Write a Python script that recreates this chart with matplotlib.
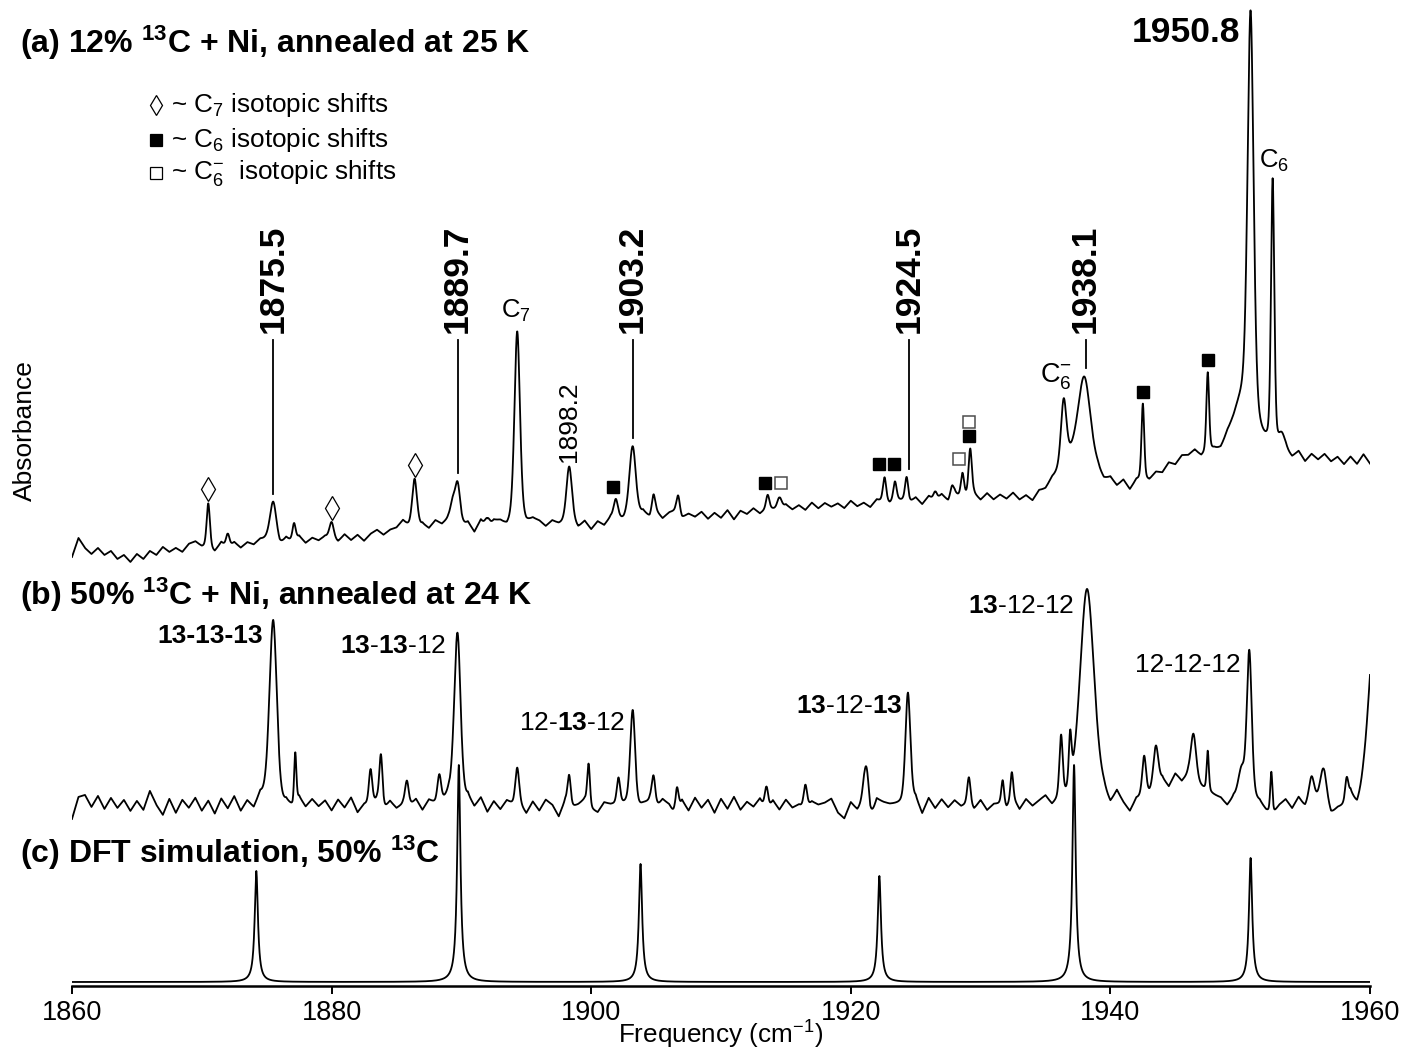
import matplotlib

matplotlib.use("Agg")

import matplotlib.pyplot as plt
import numpy as np


plt.rcParams["font.family"] = ["Liberation Sans", "DejaVu Sans"]
plt.rcParams["mathtext.fontset"] = "custom"
plt.rcParams["mathtext.rm"] = "Liberation Sans"
plt.rcParams["mathtext.bf"] = "Liberation Sans:bold"
plt.rcParams["mathtext.default"] = "regular"


FREQ_MIN = 1860
FREQ_MAX = 1960

# ---------------------------------------------------------------
# (c) DFT simulation, 50% 13C  (Lorentzian bands)
# ---------------------------------------------------------------
dft_pos = [1874.2, 1889.8, 1903.8, 1922.2, 1937.2, 1950.8]
dft_height = [111, 217, 118, 106, 217, 124]
dft_fwhm = 0.3
dft_offset = 4

# ---------------------------------------------------------------
# (b) 50% 13C + Ni, annealed at 24 K
# ---------------------------------------------------------------
b_offset = 181

b_pos = [1875.5, 1877.2, 1883.0, 1883.8, 1885.8, 1888.3, 1889.7, 1894.3,
         1898.3, 1899.8, 1902.1, 1903.2, 1904.8, 1906.6, 1913.5, 1916.5,
         1921.2, 1924.4, 1929.1, 1931.7, 1932.4, 1936.2, 1936.9, 1938.2,
         1942.6, 1943.5, 1945.5, 1946.4, 1947.5, 1950.1, 1950.7, 1952.4,
         1955.5, 1956.4, 1958.2, 1960.4]
b_height = [185, 50, 35, 52, 25, 28, 176, 37,
            30, 42, 26, 97, 30, 26, 25, 24,
            45, 112, 28, 25, 28, 62, 50, 215,
            40, 42, 25, 48, 40, 30, 150, 42,
            26, 34, 22, 180]
b_fwhm = [0.7, 0.2, 0.3, 0.3, 0.35, 0.35, 0.6, 0.35,
          0.3, 0.25, 0.3, 0.45, 0.35, 0.3, 0.3, 0.3,
          0.5, 0.45, 0.3, 0.25, 0.25, 0.3, 0.25, 1.3,
          0.35, 0.45, 4.0, 0.5, 0.2, 0.6, 0.45, 0.2,
          0.5, 0.6, 0.3, 1.2]

# residual noise read every 0.5 cm-1 from 1860 to 1960
b_noise = [
    -14, 8, 10, -2, 9, -4, 7, -3, 5, -6,
    4, -5, 14, 0, -10, 6, -8, 5, -3, 7,
    -6, 4, -9, 6, -4, 8, -7, 3, -5, 8,
    0, 0, -10, 0, -4, 6, -3, 5, -2, 4,
    -6, 5, -3, 7, -8, 0, 0, 4, -6, 3,
    -4, 0, -2, 5, -6, 4, 0, 0, 8, 0,
    -10, 5, -4, 6, -8, 3, -5, 4, 0, 0,
    -9, 3, -6, 5, 0, -12, 4, -3, 0, 5,
    -5, -8, 2, 0, 0, 0, 0, -6, 0, 3,
    -4, 5, 0, -12, 4, -6, 7, -3, 5, -8,
    6, -4, 8, -5, 3, -2, 6, -7, 4, -5,
    5, -3, 0, -4, 3, 0, 2, 6, -8, -14,
    2, -6, 0, -18, 5, 2, 0, 0, 0, 0,
    5, -10, 6, -4, 5, -3, 4, -2, 0, -5,
    4, -6, 0, 0, -4, 5, -6, 4, -3, 2,
    6, -4, 0, 0, 0, 0, 0, 0, 0, 2,
    -6, 8, -3, -12, 0, 0, 0, 3, 8, -4,
    6, -3, 4, 0, 0, 0, 0, 0, -6, 3,
    0, 0, 0, 0, -8, -12, -2, 4, -5, 6,
    -4, 0, 0, 0, -12, -6, -4, 8, -8, 0,
    0,
]

# ---------------------------------------------------------------
# (a) 12% 13C + Ni, annealed at 25 K
# ---------------------------------------------------------------
a_base_freq = [1860, 1864.5, 1869, 1875, 1882, 1888, 1896, 1900, 1905,
               1910, 1915, 1920, 1925, 1930, 1934, 1937, 1940, 1942,
               1944, 1946, 1948, 1952, 1955, 1960]
a_base_val = [438, 429, 438, 444, 448, 460, 463, 461, 471,
              471, 478, 481, 486, 489, 487, 494, 500, 500,
              514, 530, 530, 532, 528, 525]

a_pos = [1870.5, 1872.0, 1875.5, 1877.1, 1880.0, 1886.4, 1889.3, 1889.7,
         1892.0, 1894.3, 1898.3, 1901.9, 1903.2, 1904.8, 1906.7, 1913.6,
         1914.5, 1922.6, 1923.4, 1924.3, 1926.5, 1927.8, 1928.6, 1929.2,
         1937.3, 1936.4, 1938.0, 1942.5, 1947.5, 1950.2, 1950.8, 1952.5,
         1953.2]
a_height = [45, 14, 40, 18, 17, 53, 15, 42,
            11, 192, 56, 20, 72, 19, 18, 14,
            13, 25, 19, 25, 9, 10, 25, 47,
            35, 65, 83, 77, 80, 50, 405, 268,
            15]
a_fwhm = [0.3, 0.3, 0.6, 0.3, 0.4, 0.45, 0.4, 0.5,
          0.4, 0.5, 0.5, 0.4, 0.6, 0.3, 0.3, 0.3,
          0.4, 0.3, 0.3, 0.3, 0.3, 0.3, 0.3, 0.3,
          3.0, 0.5, 1.1, 0.25, 0.25, 2.0, 0.55, 0.3,
          0.6]

a_noise = [
    -9, 11, 2, -3, 4, -2, 3, -4, 1, -5,
    2, -4, 3, -2, 5, -1, 2, -3, 4, 6,
    0, -2, -6, 3, -3, 2, -4, 1, -2, 3,
    2, 0, -5, 3, -2, 4, -3, 2, -1, 3,
    0, -3, 4, -2, 3, -4, 2, 5, -1, 3,
    4, 10, 2, -4, 3, -2, 5, 1, 6, 2,
    -3, 2, -8, 4, -6, 3, 2, -4, 0, 0,
    -2, 3, 1, -4, 2, -1, 0, 2, -4, 3,
    -5, 2, -3, 4, 0, -1, 2, -3, 4, -2,
    3, -4, 2, 4, -3, 1, -2, 3, -4, 2,
    -3, 4, -6, 2, -2, 3, -3, 1, 0, -2,
    3, -2, 2, -3, 4, -2, 3, -1, 2, -3,
    4, -2, 1, -4, 3, 0, -2, 1, 0, -3,
    2, -5, 3, -2, 4, -3, 5, -2, 0, 2,
    -4, 3, -3, 2, -2, 4, -3, 1, -5, 2,
    -1, 3, 0, 0, 0, 0, 0, 0, 2, -3,
    2, -4, 3, -6, 4, 0, -3, 2, -2, 4,
    -2, 3, -1, 4, -3, 0, 2, -2, 3, 0,
    0, 0, 0, 0, 0, 0, 0, 2, -3, 4,
    -5, 3, -2, 4, -3, 2, -5, 3, -4, 6,
    -3,
]

# assignments in (a)
a_labels = ["1875.5", "1889.7", "1903.2", "1924.5", "1938.1"]
c7_shift_pos = [1870.5, 1880.0, 1886.4]
c6_shift_pos = [1901.7, 1913.4, 1922.2, 1923.3, 1929.1, 1942.5, 1947.5]
c6m_shift_pos = [1914.6, 1928.3]

# isotopomer labels in (b)
b_labels = [
    r"13-13-13",
    r"$\mathbf{13}$-$\mathbf{13}$-12",
    r"12-$\mathbf{13}$-12",
    r"$\mathbf{13}$-12-$\mathbf{13}$",
    r"$\mathbf{13}$-12-12",
    r"12-12-12",
]


def band(x, pos, height, fwhm, eta):

    d = (x - pos) / fwhm
    gauss = np.exp(-4 * np.log(2) * d ** 2)
    lorentz = 1 / (1 + 4 * d ** 2)

    return height * (eta * lorentz + (1 - eta) * gauss)


def spectrum(x, pos, height, fwhm, eta):

    y = np.zeros_like(x)

    for p, h, w in zip(pos, height, fwhm):
        y += band(x, p, h, w, eta)

    return y


def local_top(x, y, f, half=0.35):

    mask = (x > f - half) & (x < f + half)

    return y[mask].max()


def main():

    x = np.linspace(FREQ_MIN, FREQ_MAX, 8001)
    noise_freq = np.arange(FREQ_MIN, FREQ_MAX + 0.25, 0.5)

    y_c = dft_offset + spectrum(x, dft_pos, dft_height,
                                [dft_fwhm] * len(dft_pos), 1.0)

    y_b = (b_offset
           + spectrum(x, b_pos, b_height, b_fwhm, 0.35)
           + np.interp(x, noise_freq, b_noise))

    y_a = (np.interp(x, a_base_freq, a_base_val)
           + spectrum(x, a_pos, a_height, a_fwhm, 0.35)
           + np.interp(x, noise_freq, a_noise))

    fig = plt.figure(figsize=(14.01, 10.49), dpi=100)
    ax = fig.add_axes([72 / 1401, 63 / 1049, 1298 / 1401, 986 / 1049])

    for y in (y_a, y_b, y_c):
        ax.plot(x, y, color="black", lw=1.3)

    ax.set_xlim(FREQ_MIN, FREQ_MAX)
    ax.set_ylim(0, 986)

    for side in ("left", "right", "top"):
        ax.spines[side].set_visible(False)

    ax.spines["bottom"].set_linewidth(1.8)
    ax.set_yticks([])
    ax.set_xticks(np.arange(FREQ_MIN, FREQ_MAX + 1, 20))
    ax.tick_params(axis="x", direction="out", length=6, width=1.4,
                   labelsize=19.5, pad=4)
    ax.set_xlabel("Frequency (cm$^{-1}$)", fontsize=18.8, labelpad=-5)

    ax.text(1856.4, 555, "Absorbance", rotation=90, fontsize=19,
            ha="center", va="center")

    # panel titles
    title_kw = dict(fontsize=23, fontweight="bold", ha="left",
                    va="baseline")
    ax.text(1856.0, 933, "(a) 12% $^{13}$C + Ni, annealed at 25 K",
            **title_kw)
    ax.text(1856.0, 381, "(b) 50% $^{13}$C + Ni, annealed at 24 K",
            **title_kw)
    ax.text(1856.0, 123, "(c) DFT simulation, 50% $^{13}$C", **title_kw)

    # legend for the symbols
    legend_rows = [
        ("d", "none", "~ C$_7$ isotopic shifts", 881),
        ("s", "black", "~ C$_6$ isotopic shifts", 846),
        ("s", "white", "~ C$_6^{-}$  isotopic shifts", 813),
    ]

    for marker, face, label, yv in legend_rows:
        size = 10.5 if marker == "d" else 8
        ax.plot([1866.5], [yv], marker=marker, ms=size, mfc=face,
                mec="black", mew=0.9, ls="none", clip_on=False)
        ax.text(1867.6, yv, label, fontsize=18.8, ha="left", va="center")

    # (a) assignment labels with leader lines
    for label in a_labels:
        f = float(label)
        top = local_top(x, y_a, f)
        ax.plot([f, f], [top + 8, 646], color="black", lw=1.3)
        ax.text(f, 653, label, rotation=90, fontsize=25.5,
                fontweight="bold", ha="center", va="bottom")

    ax.text(1950.0, 944, "1950.8", fontsize=25.5, fontweight="bold",
            ha="right", va="baseline")
    ax.text(1894.2, local_top(x, y_a, 1894.3) + 14, "C$_7$",
            fontsize=18.5, ha="center", va="baseline")
    ax.text(1898.3, local_top(x, y_a, 1898.3) + 4, "1898.2",
            rotation=90, fontsize=19, ha="center", va="bottom")
    ax.text(1952.6, local_top(x, y_a, 1952.5) + 10, "C$_6$",
            fontsize=18.5, ha="center", va="baseline")
    ax.text(1934.6, 603, "C$_6^{-}$", fontsize=19.5, ha="left",
            va="baseline")

    # isotopic shift symbols
    for f in c7_shift_pos:
        ax.plot([f], [local_top(x, y_a, f) + 14], marker="d", ms=12,
                mfc="none", mec="black", mew=0.9, ls="none")

    stacked = {}
    for f in c6_shift_pos:
        yv = local_top(x, y_a, f) + 12
        if f in (1922.2, 1923.3):
            yv = local_top(x, y_a, 1922.6) + 13
        stacked[f] = yv
        ax.plot([f], [yv], marker="s", ms=9, mfc="black", mec="black",
                ls="none")

    for f in c6m_shift_pos:
        ax.plot([f], [local_top(x, y_a, f) + 14], marker="s", ms=9,
                mfc="white", mec="0.3", mew=1.1, ls="none")

    ax.plot([1929.1], [stacked[1929.1] + 14], marker="s", ms=9,
            mfc="white", mec="0.3", mew=1.1, ls="none")

    # (b) isotopomer labels
    b_label_pos = [(1874.7, 343), (1888.8, 333), (1902.6, 256),
                   (1924.0, 273), (1937.2, 373), (1950.0, 314)]

    for label, (f, yv) in zip(b_labels, b_label_pos):
        weight = "bold" if label == "13-13-13" else "normal"
        ax.text(f, yv, label, fontsize=19, fontweight=weight,
                ha="right", va="baseline")

    fig.savefig("out.png", dpi=100)


if __name__ == "__main__":

    main()
